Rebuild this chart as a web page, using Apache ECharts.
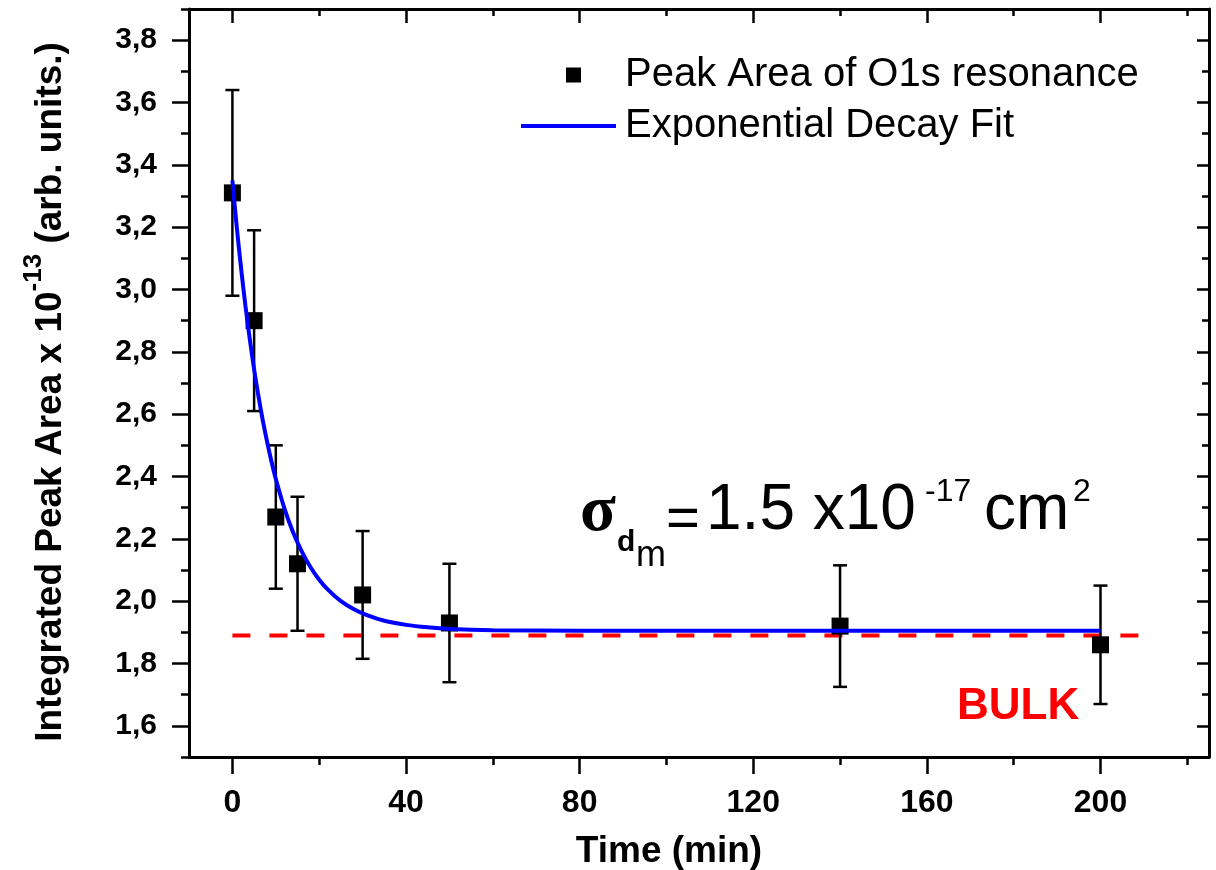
<!DOCTYPE html>
<html>
<head>
<meta charset="utf-8">
<script src="https://cdn.jsdelivr.net/npm/echarts@6/dist/echarts.min.js"></script>
<style>
html,body{margin:0;padding:0;background:#fff;}
#chart{width:1216px;height:870px;}
</style>
</head>
<body>
<div id="chart"></div>
<script>
// ---- data ----
const timeMin = [0, 5, 10, 15, 30, 50, 140, 200];
const peakArea = [3.31, 2.90, 2.27, 2.12, 2.02, 1.93, 1.92, 1.86];
const peakErr = [0.33, 0.29, 0.23, 0.215, 0.205, 0.19, 0.195, 0.19];

const fitTime = [0, 1, 2, 3, 4, 5, 6, 7, 8, 9, 10, 12, 14, 16, 18, 20, 22, 25, 28, 31, 35, 40, 45, 50, 60, 80, 120, 200];
const fitArea = [3.350, 3.201, 3.068, 2.948, 2.841, 2.744, 2.658, 2.580, 2.511, 2.448, 2.392, 2.297, 2.220, 2.159, 2.109, 2.069, 2.037, 2.000, 1.974, 1.955, 1.937, 1.924, 1.916, 1.911, 1.907, 1.905, 1.905, 1.905];

const bulkTime = [0, 210];
const bulkLevel = 1.89;

const xMajorTicks = [0, 40, 80, 120, 160, 200];
const xMinorTicks = [20, 60, 100, 140, 180, 220];
const yMajorTicks = [1.6, 1.8, 2.0, 2.2, 2.4, 2.6, 2.8, 3.0, 3.2, 3.4, 3.6, 3.8];
const yMinorTicks = [1.5, 1.7, 1.9, 2.1, 2.3, 2.5, 2.7, 2.9, 3.1, 3.3, 3.5, 3.7, 3.9];

const seriesNames = ['Peak Area of O1s resonance', 'Exponential Decay Fit'];

// ---- build ----
const X_MIN = -10, X_MAX = 225, Y_MIN = 1.5, Y_MAX = 3.9;
const FONT = '"Liberation Sans", Arial, sans-serif';
const black = '#000';

function xAx(position, ticks, len, inside, showLine, showLabel) {
  return {
    type: 'value', position: position, min: X_MIN, max: X_MAX,
    axisLine: { show: showLine, onZero: false, lineStyle: { color: black, width: 3 } },
    axisTick: { show: true, customValues: ticks, length: len, inside: inside, lineStyle: { color: black, width: 2.5 } },
    axisLabel: showLabel ? { show: true, customValues: ticks, margin: 30, color: black, fontFamily: FONT, fontWeight: 'bold', fontSize: 32 } : { show: false },
    splitLine: { show: false },
    name: showLabel ? 'Time (min)' : '',
    nameLocation: 'middle', nameGap: 76,
    nameTextStyle: { color: black, fontFamily: FONT, fontWeight: 'bold', fontSize: 37, padding: [0, 60, 0, 0] }
  };
}
function yAx(position, ticks, len, inside, showLine, showLabel) {
  return {
    type: 'value', position: position, min: Y_MIN, max: Y_MAX,
    axisLine: { show: showLine, onZero: false, lineStyle: { color: black, width: 3 } },
    axisTick: { show: true, customValues: ticks, length: len, inside: inside, lineStyle: { color: black, width: 2.5 } },
    axisLabel: showLabel ? { show: true, customValues: ticks, margin: 32, color: black, fontFamily: FONT, fontWeight: 'bold', fontSize: 30,
      formatter: v => v.toFixed(1).replace('.', ',') } : { show: false },
    splitLine: { show: false },
    name: showLabel ? '{n|Integrated Peak Area x 10}{s|-13}{n| (arb. units.)}' : '',
    nameLocation: 'middle', nameGap: 120, nameRotate: 90,
    nameTextStyle: {
      color: black, fontFamily: FONT, fontWeight: 'bold', fontSize: 37, padding: [0, 18, 0, 0],
      rich: {
        n: { fontFamily: FONT, fontWeight: 'bold', fontSize: 37, color: black, verticalAlign: 'bottom', lineHeight: 48 },
        s: { fontFamily: FONT, fontWeight: 'bold', fontSize: 26, color: black, verticalAlign: 'top', lineHeight: 48 }
      }
    }
  };
}

const errData = timeMin.map((t, i) => [t, peakArea[i] - peakErr[i], peakArea[i] + peakErr[i]]);
const ptData = timeMin.map((t, i) => [t, peakArea[i]]);
const fitData = fitTime.map((t, i) => [t, fitArea[i]]);
const bulkData = bulkTime.map(t => [t, bulkLevel]);

const chart = echarts.init(document.getElementById('chart'), null, { renderer: 'canvas' });
chart.setOption({
  animation: false,
  backgroundColor: '#fff',
  grid: { left: 189, right: 7, top: 9, bottom: 113, containLabel: false, outerBoundsMode: 'none' },
  xAxis: [
    xAx('bottom', xMajorTicks, 17, false, true, true),
    xAx('bottom', xMinorTicks, 8, false, false, false),
    xAx('top', xMajorTicks, 14, true, true, false),
    xAx('top', xMinorTicks, 7, true, false, false)
  ],
  yAxis: [
    yAx('left', yMajorTicks, 17, false, true, true),
    yAx('left', yMinorTicks, 8, false, false, false),
    yAx('right', yMajorTicks, 12, true, true, false),
    yAx('right', yMinorTicks, 7, true, false, false)
  ],
  legend: [
    {
      data: [seriesNames[0]], left: 561, top: 50, icon: 'rect', itemWidth: 15, itemHeight: 15,
      formatter: name => '{sp|}' + name,
      textStyle: { color: black, fontFamily: FONT, fontSize: 40, rich: { sp: { width: 39 } } },
      selectedMode: false
    },
    {
      data: [seriesNames[1]], left: 516, top: 101, icon: 'rect', itemWidth: 95, itemHeight: 4,
      formatter: name => '{sp|}' + name,
      textStyle: { color: black, fontFamily: FONT, fontSize: 40, rich: { sp: { width: 4 } } },
      selectedMode: false
    }
  ],
  series: [
    {
      type: 'line', name: 'bulk', data: bulkData, symbol: 'none', z: 2,
      lineStyle: { color: '#ff0000', width: 4, type: [18, 19] }
    },
    {
      type: 'custom', name: 'err', data: errData, z: 3,
      renderItem: function (params, api) {
        const x = api.value(0), lo = api.value(1), hi = api.value(2);
        const pLo = api.coord([x, lo]), pHi = api.coord([x, hi]);
        const cap = 7;
        const st = { stroke: black, lineWidth: 2.5 };
        return {
          type: 'group', children: [
            { type: 'line', shape: { x1: pLo[0], y1: pLo[1], x2: pHi[0], y2: pHi[1] }, style: st },
            { type: 'line', shape: { x1: pLo[0] - cap, y1: pLo[1], x2: pLo[0] + cap, y2: pLo[1] }, style: st },
            { type: 'line', shape: { x1: pHi[0] - cap, y1: pHi[1], x2: pHi[0] + cap, y2: pHi[1] }, style: st }
          ]
        };
      }
    },
    {
      type: 'scatter', name: seriesNames[0], data: ptData, symbol: 'rect', symbolSize: 17, z: 4,
      itemStyle: { color: black, opacity: 1 }
    },
    {
      type: 'line', name: seriesNames[1], data: fitData, symbol: 'none', smooth: 0.3, z: 5,
      lineStyle: { color: '#0000ff', width: 4 }, itemStyle: { color: '#0000ff' }
    }
  ],
  graphic: [
    { type: 'text', left: 580, top: 480, z: 10, style: { text: 'σ', font: 'bold 66px "Liberation Serif", serif', fill: black } },
    { type: 'text', left: 617, top: 528, z: 10, style: { text: 'd', font: 'bold 30px "Liberation Sans", sans-serif', fill: black } },
    { type: 'text', left: 636, top: 538, z: 10, style: { text: 'm', font: '36px "Liberation Sans", sans-serif', fill: black } },
    { type: 'text', left: 666, top: 492, z: 10, style: { text: '=', font: '58px "Liberation Sans", sans-serif', fill: black } },
    { type: 'text', left: 706, top: 479, z: 10, style: { text: '1.5 x10', font: '64px "Liberation Sans", sans-serif', fill: black } },
    { type: 'text', left: 925, top: 476, z: 10, style: { text: '-17', font: '32px "Liberation Sans", sans-serif', fill: black } },
    { type: 'text', left: 984, top: 479, z: 10, style: { text: 'cm', font: '64px "Liberation Sans", sans-serif', fill: black } },
    { type: 'text', left: 1073, top: 476, z: 10, style: { text: '2', font: '32px "Liberation Sans", sans-serif', fill: black } },
    { type: 'text', left: 957, top: 685, z: 10, style: { text: 'BULK', font: 'bold 44px "Liberation Sans", sans-serif', fill: '#ff0000' } }
  ]
});
</script>
</body>
</html>
